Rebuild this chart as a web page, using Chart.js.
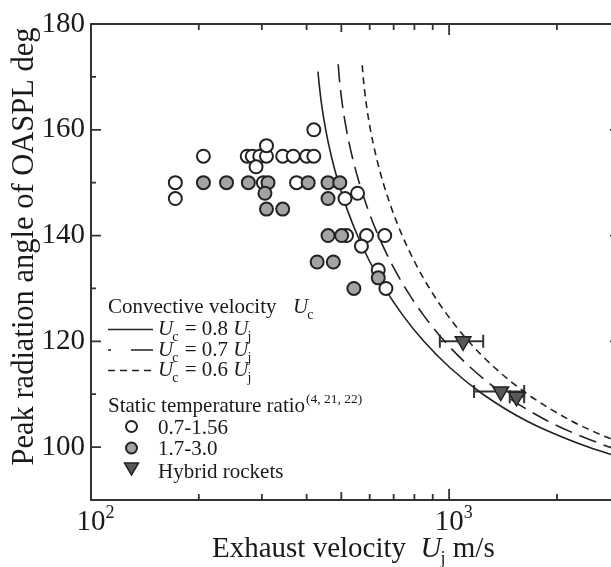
<!DOCTYPE html>
<html><head><meta charset="utf-8">
<script src="https://cdn.jsdelivr.net/npm/chart.js@4.4.1/dist/chart.umd.min.js"></script>
<style>html,body{margin:0;padding:0;background:#fff;overflow:hidden;}canvas{display:block;}</style>
</head><body>
<canvas id="c" width="640" height="567"></canvas>
<script>
// ---------- data ----------
const openU     = [419, 206, 273, 282, 296, 309, 309, 289, 343, 367, 400, 419, 172, 172, 303, 375, 555, 512, 517, 588, 661, 569, 634, 666];
const openAngle = [160, 155, 155, 155, 155, 155, 157, 153, 155, 155, 155, 155, 150, 147, 150, 150, 148, 147, 140, 140, 140, 138, 133.5, 130];

const greyU     = [206, 239, 275, 312, 306, 309, 343, 404, 459, 495, 459, 459, 501, 428, 475, 634, 542];
const greyAngle = [150, 150, 150, 150, 148, 145, 145, 150, 150, 150, 147, 140, 140, 135, 135, 132, 130];

const hybridU     = [1094, 1394, 1542];
const hybridAngle = [120, 110.5, 109.5];
const hybridUMin  = [942, 1174, 1477];
const hybridUMax  = [1245, 1620, 1620];

const curve08U     = [430.3, 431.6, 440.0, 452.3, 468.9, 490.7, 518.8, 554.8, 601.0, 661.2, 741.0, 850.0, 1005.6, 1242.6, 1642.1, 2447.5, 3000];
const curve08Angle = [171, 170, 165, 160, 155, 150, 145, 140, 135, 130, 125, 120, 115, 110, 105, 100, 98.1];
const curve07U     = [490.0, 493.2, 502.8, 516.9, 535.9, 560.9, 593.0, 634.1, 686.9, 755.6, 846.8, 971.4, 1149.3, 1420.1, 1876.6, 2797.1, 3000];
const curve07Angle = [172.4, 170, 165, 160, 155, 150, 145, 140, 135, 130, 125, 120, 115, 110, 105, 100, 99.3];
const curve06U     = [571.9, 575.4, 586.7, 603.0, 625.2, 654.3, 691.8, 739.7, 801.4, 881.6, 988.0, 1133.3, 1340.9, 1656.8, 2189.4, 2725.5, 3000];
const curve06Angle = [172.2, 170, 165, 160, 155, 150, 145, 140, 135, 130, 125, 120, 115, 110, 105, 102, 100.9];

const xMajorTicks = [100, 1000];
const xMidTicks   = [500];
const xMinorTicks = [200, 300, 400, 600, 700, 800, 900, 2000, 3000];
const xTickBase   = ['10', '10'];
const xTickExp    = ['2', '3'];
const yMajorTicks = [100, 120, 140, 160, 180];
const yMinorTicks = [110, 130, 150, 170];

const curveCoefs  = ['0.8', '0.7', '0.6'];
const seriesNames = ['0.7-1.56', '1.7-3.0', 'Hybrid rockets'];
const yTitle = 'Peak radiation angle of OASPL deg';

// ---------- helpers ----------
const SERIF = '"Liberation Serif", "Times New Roman", serif';
const F = (s, it) => (it ? 'italic ' : '') + s + 'px ' + SERIF;
const INK = '#1a1a1a';
const pts = (xs, ys) => xs.map((v, i) => ({x: v, y: ys[i]}));

function drawParts(ctx, x, y, parts) {
  for (const p of parts) {
    ctx.font = p.f;
    ctx.fillText(p.t, x + (p.dx || 0), y + (p.dy || 0));
    x += ctx.measureText(p.t).width + (p.dx || 0);
  }
  return x;
}
function ucParts(sub, size, subSize, subDy) {
  return [{t: 'U', f: F(size, true)}, {t: sub, f: F(subSize), dy: subDy, dx: -1}];
}

const decor = {
  id: 'decor',
  beforeDatasetsDraw(chart) {
    const ctx = chart.ctx, xs = chart.scales.x, ys = chart.scales.y;
    ctx.save();
    ctx.strokeStyle = '#333'; ctx.lineWidth = 2;
    hybridU.forEach((u, i) => {
      const y = ys.getPixelForValue(hybridAngle[i]);
      const x1 = xs.getPixelForValue(hybridUMin[i]), x2 = xs.getPixelForValue(hybridUMax[i]);
      ctx.beginPath();
      ctx.moveTo(x1, y); ctx.lineTo(x2, y);
      ctx.moveTo(x1, y - 6.5); ctx.lineTo(x1, y + 6.5);
      ctx.moveTo(x2, y - 6.5); ctx.lineTo(x2, y + 6.5);
      ctx.stroke();
    });
    ctx.restore();
  },
  afterDraw(chart) {
    const ctx = chart.ctx, xs = chart.scales.x, ys = chart.scales.y, a = chart.chartArea;
    ctx.save();
    // frame
    ctx.strokeStyle = '#333'; ctx.lineWidth = 2;
    ctx.strokeRect(a.left, a.top, a.right - a.left, a.bottom - a.top);
    ctx.lineWidth = 1.8;
    const xt = (list, len) => list.forEach(v => {
      const px = xs.getPixelForValue(v);
      ctx.beginPath();
      ctx.moveTo(px, a.bottom); ctx.lineTo(px, a.bottom - len);
      ctx.moveTo(px, a.top); ctx.lineTo(px, a.top + len);
      ctx.stroke();
    });
    xt(xMajorTicks, 11); xt(xMidTicks, 8); xt(xMinorTicks, 6);
    const yt = (list, len) => list.forEach(v => {
      const py = ys.getPixelForValue(v);
      ctx.beginPath();
      ctx.moveTo(a.left, py); ctx.lineTo(a.left + len, py);
      ctx.moveTo(a.right, py); ctx.lineTo(a.right - len, py);
      ctx.stroke();
    });
    yt(yMajorTicks, 10); yt(yMinorTicks, 5);

    ctx.fillStyle = INK;
    ctx.textBaseline = 'alphabetic';
    // x tick labels (10^n)
    xMajorTicks.forEach((v, i) => {
      const px = xs.getPixelForValue(v);
      ctx.font = F(29);
      const w = ctx.measureText(xTickBase[i]).width;
      ctx.textAlign = 'left';
      ctx.fillText(xTickBase[i], px - w / 2, 530);
      ctx.font = F(18);
      ctx.fillText(xTickExp[i], px + w / 2, 518);
    });
    // x title
    ctx.textAlign = 'left';
    drawParts(ctx, 212, 557, [
      {t: 'Exhaust velocity  ', f: F(29)},
      {t: 'U', f: F(29, true)},
      {t: 'j', f: F(18), dy: 7, dx: -1},
      {t: ' m/s', f: F(29)}
    ]);
    // y title
    ctx.save();
    ctx.translate(33, 246.5);
    ctx.rotate(-Math.PI / 2);
    ctx.textAlign = 'center';
    ctx.font = F(30.5);
    ctx.fillText(yTitle, 0, 0);
    ctx.restore();

    // legend
    ctx.textAlign = 'left';
    drawParts(ctx, 108, 313, [{t: 'Convective velocity', f: F(21)}]);
    drawParts(ctx, 293, 313, ucParts('c', 21, 14, 6));
    const rowY = [335, 355.5, 376];
    const dashes = [[], [3, 20, 22, 100], [7, 5]];
    ctx.strokeStyle = '#222'; ctx.lineWidth = 1.6;
    rowY.forEach((y, i) => {
      ctx.setLineDash(dashes[i]);
      ctx.beginPath(); ctx.moveTo(108, y - 5.5); ctx.lineTo(153, y - 5.5); ctx.stroke();
      ctx.setLineDash([]);
      drawParts(ctx, 158, y, [
        ...ucParts('c', 21, 14, 6),
        {t: ' = ' + curveCoefs[i] + ' ', f: F(21), dx: 1},
        ...ucParts('j', 21, 14, 6)
      ]);
    });
    const ex = drawParts(ctx, 108, 412, [{t: 'Static temperature ratio', f: F(21)}]);
    drawParts(ctx, ex + 1, 403, [{t: '(4, 21, 22)', f: F(13.5)}]);
    const mY = [426.5, 448, 468];
    const tY = [433.5, 455, 477.5];
    ctx.lineWidth = 2;
    ctx.beginPath(); ctx.arc(131.5, mY[0], 5.5, 0, 2 * Math.PI);
    ctx.fillStyle = '#fff'; ctx.fill(); ctx.strokeStyle = '#222'; ctx.stroke();
    ctx.beginPath(); ctx.arc(131.5, mY[1], 5.5, 0, 2 * Math.PI);
    ctx.fillStyle = '#a3a3a3'; ctx.fill(); ctx.stroke();
    ctx.beginPath();
    ctx.moveTo(124.5, mY[2] - 5); ctx.lineTo(138.5, mY[2] - 5); ctx.lineTo(131.5, mY[2] + 7); ctx.closePath();
    ctx.fillStyle = '#585858'; ctx.fill(); ctx.lineWidth = 1.5; ctx.stroke();
    ctx.fillStyle = INK;
    seriesNames.forEach((s, i) => drawParts(ctx, 158, tY[i], [{t: s, f: F(21)}]));
    ctx.restore();
  }
};

const lineDs = (xs, ys, dash) => ({
  data: pts(xs, ys), showLine: true, pointRadius: 0, borderColor: '#222', borderWidth: 1.6,
  borderDash: dash, cubicInterpolationMode: 'monotone', fill: false, order: 3
});

new Chart(document.getElementById('c'), {
  type: 'scatter',
  data: {
    datasets: [
      lineDs(curve08U, curve08Angle, []),
      lineDs(curve07U, curve07Angle, [18, 8]),
      lineDs(curve06U, curve06Angle, [7, 5]),
      {data: pts(openU, openAngle), pointStyle: 'circle', pointRadius: 6.5, backgroundColor: '#fff',
       borderColor: '#222', borderWidth: 2, order: 2},
      {data: pts(greyU, greyAngle), pointStyle: 'circle', pointRadius: 6.5, backgroundColor: '#a3a3a3',
       borderColor: '#222', borderWidth: 2, order: 1},
      {data: pts(hybridU, hybridAngle), pointStyle: 'triangle', rotation: 180, pointRadius: 9,
       backgroundColor: '#585858', borderColor: '#222', borderWidth: 1.5, order: 0}
    ]
  },
  options: {
    responsive: false, animation: false, devicePixelRatio: 1,
    layout: {padding: {left: 0, top: 24, right: 20, bottom: 0}},
    plugins: {legend: {display: false}, tooltip: {enabled: false}},
    scales: {
      x: {
        type: 'logarithmic', min: 100, max: 3000,
        grid: {display: false, drawTicks: false}, border: {display: false},
        ticks: {display: false},
        afterFit: s => { s.height = 67; }
      },
      y: {
        type: 'linear', min: 90, max: 180,
        grid: {display: false, drawTicks: false}, border: {display: false},
        afterBuildTicks: s => { s.ticks = yMajorTicks.map(v => ({value: v})); },
        ticks: {padding: 6, color: INK, font: {family: SERIF, size: 29}},
        afterFit: s => { s.width = 91; }
      }
    }
  },
  plugins: [decor]
});
</script>
</body></html>
